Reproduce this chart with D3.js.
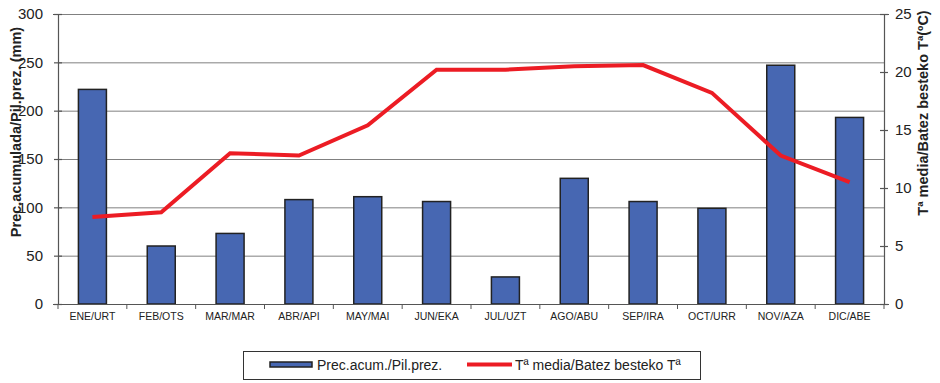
<!DOCTYPE html>
<html><head><meta charset="utf-8">
<script src="https://cdn.jsdelivr.net/npm/d3@7"></script>
<style>body{margin:0;background:#fff}svg{display:block;font-family:"Liberation Sans",Arial,sans-serif}</style>
</head><body><svg id="c" width="940" height="383"></svg>
<script>
const months = ["ENE/URT","FEB/OTS","MAR/MAR","ABR/API","MAY/MAI","JUN/EKA","JUL/UZT","AGO/ABU","SEP/IRA","OCT/URR","NOV/AZA","DIC/ABE"];
const precip = [222, 60, 73, 108, 111, 106, 28, 130, 106, 99, 247, 193];
const temp = [7.5, 7.9, 13.0, 12.8, 15.4, 20.2, 20.2, 20.5, 20.6, 18.2, 12.8, 10.5];
const precTicks = [0, 50, 100, 150, 200, 250, 300];
const tempTicks = [0, 5, 10, 15, 20, 25];

const svg = d3.select("#c");
const L = 58, R = 884, T = 14, B = 304;
const x = d3.scaleBand().domain(months).range([L, R]);
const y = d3.scaleLinear().domain([0, 300]).range([B, T]);
const y2 = d3.scaleLinear().domain([0, 25]).range([B, T]);

// gridlines
svg.append("g").selectAll("line").data(precTicks.filter(d => d > 0)).join("line")
  .attr("x1", L).attr("x2", R).attr("y1", d => y(d) + 0.5).attr("y2", d => y(d) + 0.5)
  .attr("stroke", "#808080").attr("stroke-width", 1);

// bars
const bw = 28;
svg.append("g").selectAll("rect").data(precip).join("rect")
  .attr("x", (d, i) => x(months[i]) + x.bandwidth() / 2 - bw / 2)
  .attr("y", d => y(d)).attr("width", bw).attr("height", d => B - y(d))
  .attr("fill", "#4767B2").attr("stroke", "#222").attr("stroke-width", 1.5);

// line
const line = d3.line().x((d, i) => x(months[i]) + x.bandwidth() / 2).y(d => y2(d));
svg.append("path").datum(temp).attr("d", line).attr("fill", "none")
  .attr("stroke", "#EC1C24").attr("stroke-width", 4).attr("stroke-linejoin", "miter");

// axes
const axL = svg.append("g").attr("transform", `translate(${L},0)`)
  .call(d3.axisLeft(y).tickValues(precTicks).tickSize(5).tickPadding(10));
const axR = svg.append("g").attr("transform", `translate(${R},0)`)
  .call(d3.axisRight(y2).tickValues(tempTicks).tickSize(5).tickPadding(6));
const axB = svg.append("g").attr("transform", `translate(0,${B})`)
  .call(d3.axisBottom(x).tickSize(0).tickPadding(9));
// category boundary ticks
svg.append("g").selectAll("line").data(d3.range(13)).join("line")
  .attr("x1", i => L + i * x.step()).attr("x2", i => L + i * x.step())
  .attr("y1", B).attr("y2", B + 5).attr("stroke", "#555");
[axL, axR].forEach(a => {
  a.selectAll("path,line").attr("stroke", "#555").attr("stroke-width", 1.2);
  a.selectAll("text").attr("font-size", 15).attr("fill", "#222").attr("font-family", "Liberation Sans, Arial, sans-serif");
});
axL.selectAll(".tick line").attr("x1", -4).attr("x2", 4);
axR.selectAll(".tick line").attr("x1", -4).attr("x2", 4);
axB.select(".domain").attr("stroke", "#555").attr("stroke-width", 1.2);
axB.selectAll("text").attr("font-size", 10.5).attr("fill", "#222").attr("font-family", "Liberation Sans, Arial, sans-serif");

// axis titles
svg.append("text").attr("transform", "translate(21,132) rotate(-90)")
  .attr("text-anchor", "middle").attr("font-size", 14.5).attr("font-weight", "bold").attr("fill", "#222")
  .text("Prec.acumulada/Pil.prez. (mm)");
svg.append("text").attr("transform", "translate(928,113) rotate(-90)")
  .attr("text-anchor", "middle").attr("font-size", 14.5).attr("font-weight", "bold").attr("fill", "#222")
  .text("Tª media/Batez besteko Tª(ºC)");

// legend
const lg = svg.append("g");
lg.append("rect").attr("x", 243.5).attr("y", 351.5).attr("width", 457).attr("height", 28)
  .attr("fill", "#fff").attr("stroke", "#333").attr("stroke-width", 1);
lg.append("rect").attr("x", 270).attr("y", 362).attr("width", 42).attr("height", 5)
  .attr("fill", "#4767B2").attr("stroke", "#222").attr("stroke-width", 1.5);
lg.append("text").attr("x", 317).attr("y", 370).attr("font-size", 14).attr("fill", "#222").text("Prec.acum./Pil.prez.");
lg.append("line").attr("x1", 467).attr("x2", 512).attr("y1", 364.5).attr("y2", 364.5)
  .attr("stroke", "#EC1C24").attr("stroke-width", 4);
lg.append("text").attr("x", 515).attr("y", 370).attr("font-size", 14).attr("fill", "#222").text("Tª media/Batez besteko Tª");
</script></body></html>
